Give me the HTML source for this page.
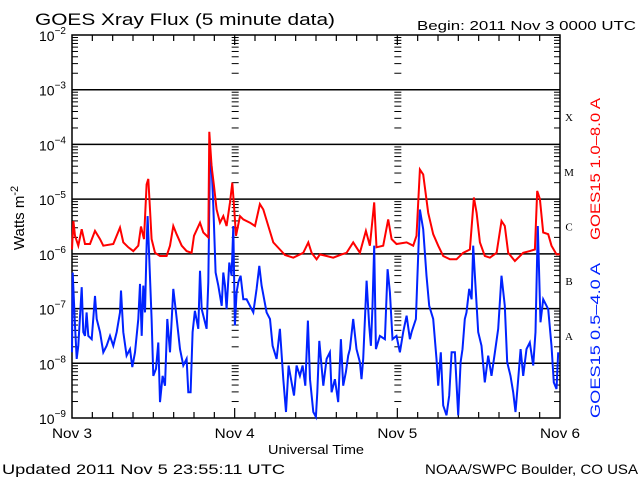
<!DOCTYPE html>
<html><head><meta charset="utf-8"><style>
html,body{margin:0;padding:0;background:#fff;}
svg{display:block;font-family:"Liberation Sans",sans-serif;}
</style></head><body>
<svg id="chart" width="640" height="480">
<text x="35" y="25" font-size="17" textLength="300" lengthAdjust="spacingAndGlyphs">GOES Xray Flux (5 minute data)</text>
<text x="417" y="30" font-size="13" textLength="219" lengthAdjust="spacingAndGlyphs">Begin:  2011 Nov 3 0000 UTC</text>
<text transform="translate(24,218) rotate(-90)" font-size="15" text-anchor="middle">Watts m<tspan dy="-6" font-size="11">-2</tspan></text>
<text x="268" y="454" font-size="13" textLength="96" lengthAdjust="spacingAndGlyphs">Universal Time</text>
<text x="2" y="474" font-size="14" textLength="283" lengthAdjust="spacingAndGlyphs">Updated 2011 Nov  5 23:55:11 UTC</text>
<text x="425" y="474" font-size="14" textLength="213" lengthAdjust="spacingAndGlyphs">NOAA/SWPC Boulder, CO USA</text>
<text transform="translate(600,240) rotate(-90)" font-size="14" fill="#ff0000" textLength="142" lengthAdjust="spacingAndGlyphs">GOES15 1.0–8.0 A</text>
<text transform="translate(600,418) rotate(-90)" font-size="14" fill="#0022ff" textLength="155" lengthAdjust="spacingAndGlyphs">GOES15 0.5–4.0 A</text>
<g id="axes"></g>
<g id="series"></g>
</svg>
<script>
const dayLabels=["Nov 3","Nov 4","Nov 5","Nov 6"];
const yTickExps=[-2,-3,-4,-5,-6,-7,-8,-9];
const classLabels=["X","M","C","B","A"];
const classExps=[-4,-5,-6,-7,-8];
const redHours=[0.0,0.2,0.44,0.93,1.43,1.92,2.66,3.39,4.13,4.62,6.1,7.08,7.57,8.31,9.05,9.78,10.18,10.62,11.01,11.26,11.51,11.75,12.24,12.98,13.96,14.46,14.95,15.44,16.18,16.91,17.65,18.0,18.88,19.37,20.11,20.26,20.6,20.95,21.34,21.83,22.32,22.81,23.31,23.65,23.9,24.19,24.78,25.27,26.26,27.0,27.73,28.22,28.96,29.7,30.68,31.42,32.65,34.12,34.86,35.35,36.09,36.58,37.56,38.54,39.77,40.51,41.49,42.48,43.36,43.95,44.59,44.93,45.92,46.65,47.15,47.88,49.36,50.34,50.83,51.33,51.82,52.56,53.29,54.03,54.77,55.75,56.73,57.72,58.7,59.29,59.69,60.18,60.91,61.65,62.64,63.37,63.86,64.36,65.34,66.57,67.55,68.29,68.63,69.03,69.52,70.26,70.75,71.49,71.98];
const redLog=[-5.92,-5.4,-5.67,-5.85,-5.55,-5.82,-5.82,-5.58,-5.73,-5.85,-5.82,-5.52,-5.79,-5.88,-5.95,-5.85,-5.5,-5.73,-4.73,-4.63,-5.19,-5.73,-5.98,-6.04,-6.04,-5.85,-5.49,-5.64,-5.85,-5.95,-5.98,-5.67,-5.43,-5.61,-5.7,-3.77,-4.4,-4.76,-5.19,-5.43,-5.31,-5.49,-5.06,-4.7,-5.12,-5.67,-5.31,-5.37,-5.43,-5.49,-5.09,-5.19,-5.49,-5.79,-5.92,-6.02,-6.07,-5.98,-5.79,-5.98,-6.1,-6.01,-6.04,-6.07,-6.01,-5.98,-5.79,-5.98,-5.58,-5.85,-5.06,-5.88,-5.85,-5.37,-5.73,-5.82,-5.79,-5.85,-5.67,-4.46,-4.55,-5.25,-5.64,-5.85,-6.04,-6.1,-6.1,-5.98,-5.92,-4.97,-5.25,-5.79,-6.04,-6.07,-5.98,-5.4,-5.49,-5.98,-6.13,-5.98,-5.95,-5.92,-4.85,-5.0,-5.61,-5.64,-5.85,-6.01,-6.01];
const blueHours=[0.0,0.1,0.44,0.69,0.93,1.43,1.67,1.92,2.16,2.41,2.9,3.39,3.64,4.13,4.62,5.11,5.61,6.1,6.59,7.08,7.23,7.57,8.06,8.56,8.9,9.29,9.78,10.03,10.28,10.52,10.77,11.01,11.16,11.41,11.75,12.0,12.39,12.73,12.98,13.37,13.72,14.06,14.46,14.95,15.34,15.93,16.42,16.91,17.16,17.5,17.8,18.14,18.63,18.88,19.13,19.86,20.11,20.36,20.6,20.85,21.19,21.59,22.08,22.32,22.57,22.81,23.21,23.55,23.8,24.04,24.29,24.54,24.88,25.27,25.76,26.75,27.24,27.63,27.98,28.71,29.21,29.6,30.19,30.68,31.17,31.57,31.96,32.4,32.75,33.14,33.63,34.02,34.42,34.81,35.11,35.6,35.99,36.19,36.48,37.07,37.56,38.05,38.3,38.79,39.28,39.67,40.02,40.41,40.75,41.0,41.49,41.98,42.48,42.72,42.97,43.46,43.85,44.1,44.34,44.59,44.84,45.43,46.16,46.56,46.9,47.29,47.88,48.38,48.87,49.36,49.85,50.1,50.74,50.93,51.33,51.82,52.31,52.7,53.29,53.78,54.03,54.42,54.77,55.26,55.65,56.0,56.49,56.98,57.33,57.62,57.96,58.21,58.6,58.95,59.19,59.44,59.93,60.42,60.91,61.41,61.9,62.39,62.88,63.37,63.86,64.21,64.7,65.09,65.44,65.83,66.18,66.57,67.06,67.55,68.04,68.39,68.73,69.13,69.52,70.26,70.75,71.09,71.49,71.73];
const blueLog=[-7.8,-6.34,-7.31,-7.92,-7.68,-6.61,-7.43,-7.5,-7.07,-7.5,-7.56,-6.77,-7.19,-7.43,-7.8,-7.68,-7.5,-7.68,-7.43,-7.07,-6.67,-7.43,-7.86,-7.74,-8.07,-7.8,-7.19,-6.55,-7.5,-6.58,-7.07,-5.85,-5.31,-6.1,-7.19,-8.23,-8.1,-7.62,-8.71,-8.23,-8.41,-7.19,-7.8,-6.64,-7.07,-7.74,-8.04,-7.92,-8.53,-8.53,-7.43,-7.04,-7.37,-6.31,-7.01,-7.37,-6.52,-4.21,-4.4,-5.12,-6.34,-6.58,-6.95,-6.34,-6.58,-7.01,-6.16,-6.4,-5.49,-7.31,-6.7,-6.52,-6.4,-6.83,-6.83,-7.07,-6.64,-6.22,-6.58,-7.07,-7.19,-7.68,-7.92,-7.37,-8.29,-8.89,-8.04,-8.35,-8.59,-8.04,-8.23,-8.04,-8.41,-7.22,-8.29,-8.89,-8.98,-8.53,-7.59,-8.41,-7.92,-7.8,-8.53,-8.29,-8.71,-7.56,-8.41,-8.16,-7.86,-7.74,-7.19,-7.74,-7.98,-8.29,-7.92,-6.49,-7.31,-7.68,-6.95,-5.85,-7.74,-7.5,-7.56,-6.28,-6.7,-7.56,-7.5,-7.8,-7.43,-7.13,-7.56,-7.43,-7.19,-6.52,-5.19,-5.55,-6.4,-6.95,-7.19,-7.92,-8.41,-7.8,-8.77,-8.95,-8.59,-7.8,-7.8,-8.95,-7.98,-7.74,-7.19,-7.07,-6.64,-6.83,-5.85,-6.4,-7.43,-7.68,-8.35,-7.86,-8.23,-7.8,-7.37,-6.4,-6.95,-7.98,-8.23,-8.53,-8.89,-8.29,-7.74,-8.23,-7.74,-7.62,-8.04,-7.43,-5.49,-7.25,-6.83,-7.01,-7.68,-8.35,-8.47,-7.8];

const NS="http://www.w3.org/2000/svg";
const L=72,R=560,T=35,B=418;
const xS=h=>L+(R-L)*h/72;
const yS=e=>T+(B-T)*(-2-e)/7;
const axes=document.getElementById('axes');
function mk(tag,at,parent){const e=document.createElementNS(NS,tag);for(const k in at)e.setAttribute(k,at[k]);parent.appendChild(e);return e;}

const frame=mk('rect',{x:L,y:T,width:R-L,height:B-T,fill:'none',stroke:'#000','stroke-width':1.5},axes);



yTickExps.forEach(ex=>{
  const y=yS(ex);
  if(ex<-2&&ex>-9){const g=mk('line',{x1:L,x2:R,y1:y,y2:y,stroke:'#000','stroke-width':1.5},axes);
  
  }
  const t=mk('text',{x:66,y:y+6,'font-size':14,'text-anchor':'end'},axes);
  
  
  t.textContent='10';
  const s=mk('tspan',{dy:-7,'font-size':10},t);s.textContent='−'+(-ex);
  if(ex>-9){for(let m=2;m<=9;m++){const yy=yS(ex-1+Math.log10(m));
    [[L,L+6],[R-6,R],[xS(24)-3,xS(24)+4],[xS(48)-3,xS(48)+4]].forEach(p=>{
      const tk=mk('line',{x1:p[0],x2:p[1],y1:yy,y2:yy,stroke:'#000','stroke-width':1},axes);
      
      });}}
});
for(let h=3;h<72;h+=3){const x=xS(h);const len=h%24===0?10:6;
  [[B,B-len],[T,T+len]].forEach(p=>{const tk=mk('line',{x1:x,x2:x,y1:p[0],y2:p[1],stroke:'#000','stroke-width':1.2},axes);
  
  });}
dayLabels.forEach((d,i)=>{const t=mk('text',{x:xS(i*24)-20,y:438,'font-size':14,textLength:40,lengthAdjust:'spacingAndGlyphs'},axes);
  
  
  t.textContent=d;});
classLabels.forEach((c,i)=>{const t=mk('text',{x:569,y:(yS(classExps[i])+yS(classExps[i]+1))/2+4,'font-size':11,'font-family':'Liberation Serif','text-anchor':'middle'},axes);
  
  
  t.textContent=c;});

const ser=document.getElementById('series');
function line(hs,vs,col,name){
  const pts=hs.map((h,i)=>xS(h).toFixed(1)+','+Math.min(B,yS(vs[i])).toFixed(1)).join(' ');
  const p=mk('polyline',{points:pts,fill:'none',stroke:col,'stroke-width':2,'stroke-linejoin':'miter'},ser);
  
  
}
line(blueHours,blueLog,'#0022ff','series-short-channel');
line(redHours,redLog,'#ff0000','series-long-channel');
</script>
</body></html>
